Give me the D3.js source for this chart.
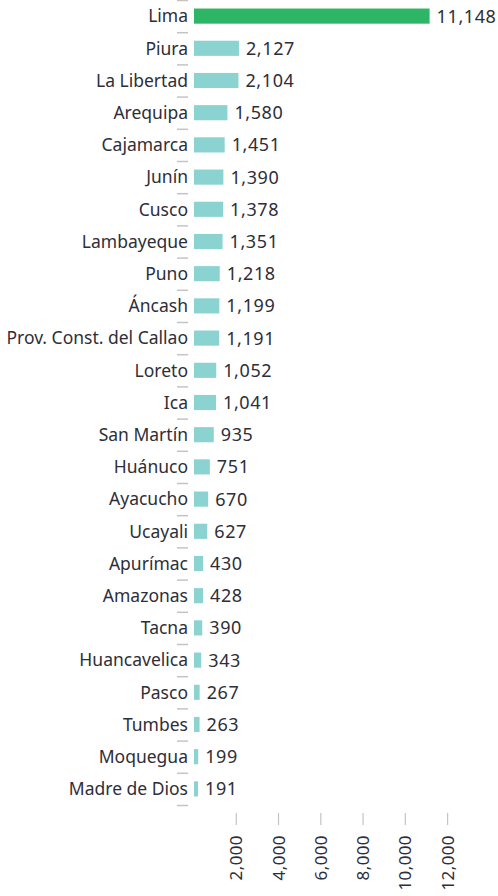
<!DOCTYPE html>
<html>
<head>
<meta charset="utf-8">
<script src="https://cdn.jsdelivr.net/npm/d3@7/dist/d3.min.js"></script>
<style>
  body { margin: 0; background: #fff; }
  text { font-family: "Noto Sans", sans-serif; fill: #2e2e38; }
</style>
</head>
<body>
<div id="chart"></div>
<script>
var regions = ["Lima", "Piura", "La Libertad", "Arequipa", "Cajamarca", "Junín", "Cusco",
  "Lambayeque", "Puno", "Áncash", "Prov. Const. del Callao", "Loreto", "Ica", "San Martín",
  "Huánuco", "Ayacucho", "Ucayali", "Apurímac", "Amazonas", "Tacna", "Huancavelica",
  "Pasco", "Tumbes", "Moquegua", "Madre de Dios"];
var counts = [11148, 2127, 2104, 1580, 1451, 1390, 1378, 1351, 1218, 1199, 1191, 1052, 1041,
  935, 751, 670, 627, 430, 428, 390, 343, 267, 263, 199, 191];
var tickVals = [2000, 4000, 6000, 8000, 10000, 12000];

var w = 498, h = 896;
var left = 194;        // bars start here, labels sit left of it
var top0 = 0, bandBottom = 805;

var data = regions.map((r, i) => ({ region: r, value: counts[i] }));

var svg = d3.select("#chart").append("svg")
  .attr("width", w)
  .attr("height", h);

var x = d3.scaleLinear().domain([0, 12000]).range([left, left + 253.6]);
var y = d3.scaleBand().domain(regions).range([top0, bandBottom]).paddingInner(0.53).paddingOuter(0.265);

// separators between categories
var step = y.step();
svg.append("g")
  .selectAll("line")
  .data(d3.range(regions.length + 1))
  .enter()
  .append("line")
  .attr("x1", 177).attr("x2", 188)
  .attr("y1", d => top0 + d * step + 0.5)
  .attr("y2", d => top0 + d * step + 0.5)
  .style("stroke", "#c4c4c4")
  .style("stroke-width", 1.5);

svg.append("g")
  .selectAll("rect")
  .data(data)
  .enter()
  .append("rect")
  .attr("x", x(0))
  .attr("y", d => y(d.region))
  .attr("width", d => x(d.value) - x(0))
  .attr("height", y.bandwidth())
  .style("fill", (d, i) => i === 0 ? "#2db665" : "#8ad3d0");

// category labels
svg.append("g")
  .selectAll("text")
  .data(data)
  .enter()
  .append("text")
  .attr("x", 188)
  .attr("y", d => y(d.region) + y.bandwidth() / 2)
  .attr("dy", "0.36em")
  .attr("text-anchor", "end")
  .style("font-size", "17.5px")
  .text(d => d.region);

// value labels
svg.append("g")
  .selectAll("text")
  .data(data)
  .enter()
  .append("text")
  .attr("x", d => x(d.value) + 7)
  .attr("y", d => y(d.region) + y.bandwidth() / 2)
  .attr("dy", "0.36em")
  .style("font-size", "18px")
  .style("letter-spacing", "0.6px")
  .text(d => d3.format(",")(d.value));

// bottom axis, rotated labels
var axis = svg.append("g");
axis.selectAll("line")
  .data(tickVals)
  .enter()
  .append("line")
  .attr("x1", d => x(d)).attr("x2", d => x(d))
  .attr("y1", 813).attr("y2", 825)
  .style("stroke", "#c4c4c4")
  .style("stroke-width", 1.2);

axis.selectAll("text")
  .data(tickVals)
  .enter()
  .append("text")
  .attr("transform", d => "translate(" + x(d) + ",835) rotate(-90)")
  .attr("dy", "0.36em")
  .attr("text-anchor", "end")
  .style("font-size", "17px")
  .style("letter-spacing", "0.4px")
  .text(d => d3.format(",")(d));
</script>
</body>
</html>
